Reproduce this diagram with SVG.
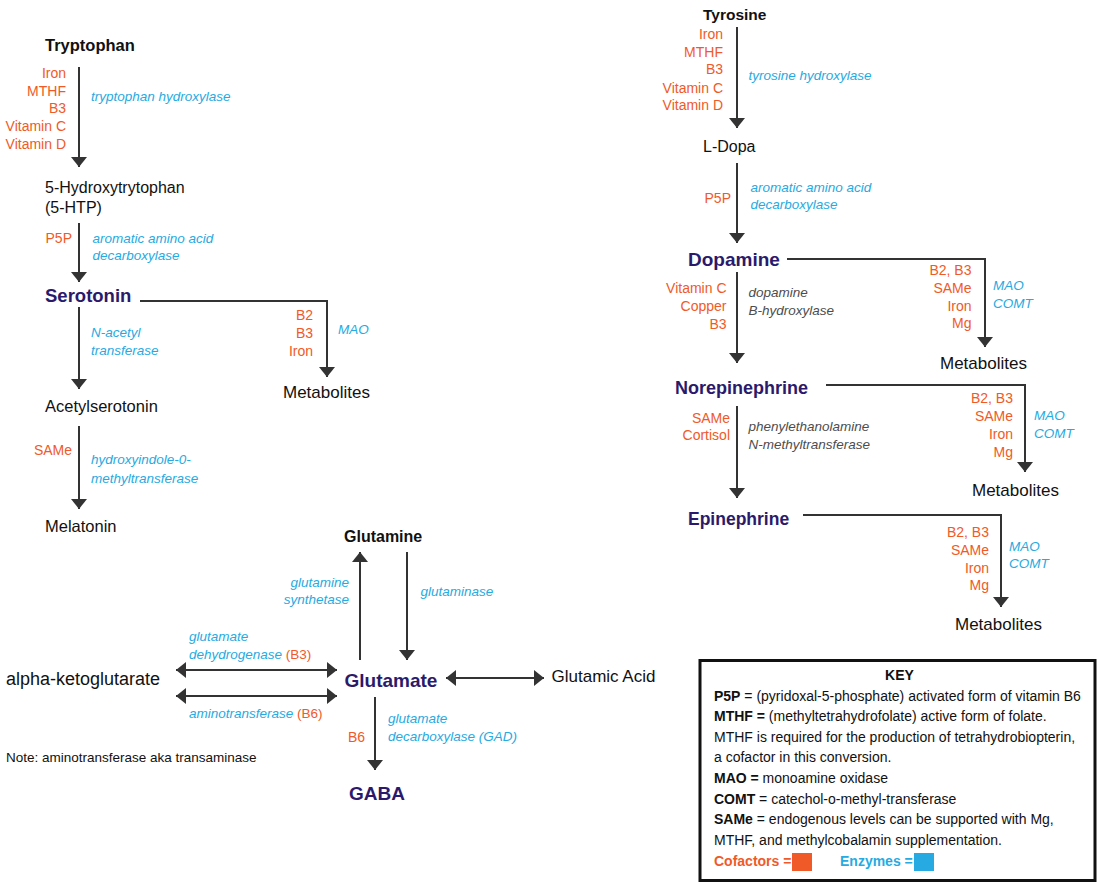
<svg xmlns="http://www.w3.org/2000/svg" width="1100" height="885" viewBox="0 0 1100 885">
<style>
text{font-family:"Liberation Sans",Arial,sans-serif}
.n{font-size:16.5px;fill:#111}
.nb{font-size:16px;fill:#111;font-weight:bold}
.p{font-size:18.5px;fill:#2b1a6b;font-weight:bold}
.c{font-size:14px;fill:#f05a28;text-anchor:end}
.e{font-size:13.5px;fill:#27aae1;font-style:italic}
.g{font-size:13.5px;fill:#4d4d4d;font-style:italic}
.k{font-size:14px;fill:#111}
.kb{font-weight:bold}
.conn path{fill:none;stroke:#333;stroke-width:2}
</style>
<defs>
<marker id="ah" viewBox="0 0 10 16" refX="10" refY="8" markerWidth="10" markerHeight="16" markerUnits="userSpaceOnUse" orient="auto-start-reverse">
<path d="M0,0 L10,8 L0,16 z" fill="#333"/>
</marker>
</defs>
<rect width="1100" height="885" fill="#fff"/>

<g class="conn" id="connectors">
<path d="M79,67 V167" marker-end="url(#ah)"/>
<path d="M79,223 V282" marker-end="url(#ah)"/>
<path d="M79,307 V389" marker-end="url(#ah)"/>
<path d="M79,426 V509" marker-end="url(#ah)"/>
<path d="M140,301 H327 V377" marker-end="url(#ah)"/>
<path d="M737,27 V128" marker-end="url(#ah)"/>
<path d="M737,163 V243" marker-end="url(#ah)"/>
<path d="M737,272 V363" marker-end="url(#ah)"/>
<path d="M737,406 V498" marker-end="url(#ah)"/>
<path d="M787,259 H985 V347" marker-end="url(#ah)"/>
<path d="M826,385 H1025 V472" marker-end="url(#ah)"/>
<path d="M803,515 H1001 V607" marker-end="url(#ah)"/>
<path d="M360,660 V552" marker-end="url(#ah)"/>
<path d="M407,552 V660" marker-end="url(#ah)"/>
<path d="M176,670 H337" marker-start="url(#ah)" marker-end="url(#ah)"/>
<path d="M176,696 H337" marker-start="url(#ah)" marker-end="url(#ah)"/>
<path d="M446,678 H544" marker-start="url(#ah)" marker-end="url(#ah)"/>
<path d="M375,697 V770" marker-end="url(#ah)"/>
</g>

<g id="tryptophan"><text class="nb" x="45" y="51" style="font-size:16.5px">Tryptophan</text></g>
<g id="trp-cofactors">
<text class="c" x="66" y="78">Iron</text>
<text class="c" x="66" y="95.5">MTHF</text>
<text class="c" x="66" y="113">B3</text>
<text class="c" x="66" y="131">Vitamin C</text>
<text class="c" x="66" y="148.5">Vitamin D</text>
<text class="e" x="91" y="101">tryptophan hydroxylase</text>
</g>
<g id="htp"><text class="n" x="45" y="192.5" style="font-size:16px">5-Hydroxytrytophan</text><text class="n" x="45" y="213" style="font-size:16px">(5-HTP)</text></g>
<g id="htp-enz">
<text class="c" x="72" y="242.5">P5P</text>
<text class="e" x="92.5" y="242.5">aromatic amino acid</text>
<text class="e" x="92.5" y="260">decarboxylase</text>
</g>
<g id="serotonin"><text class="p" x="45" y="301.5">Serotonin</text></g>
<g id="ser-met-labels">
<text class="c" x="313" y="320">B2</text>
<text class="c" x="313" y="338">B3</text>
<text class="c" x="313" y="356">Iron</text>
<text class="e" x="338" y="334">MAO</text>
</g>
<g id="metabolites1"><text class="n" x="283" y="397.5" style="font-size:17px">Metabolites</text></g>
<g id="ser-enz">
<text class="e" x="91" y="336.5">N-acetyl</text>
<text class="e" x="91" y="355">transferase</text>
</g>
<g id="acetylserotonin"><text class="n" x="45" y="411.5">Acetylserotonin</text></g>
<g id="acet-enz">
<text class="c" x="72" y="454.5">SAMe</text>
<text class="e" x="91" y="464">hydroxyindole-0-</text>
<text class="e" x="91" y="482.5">methyltransferase</text>
</g>
<g id="melatonin"><text class="n" x="45" y="532">Melatonin</text></g>

<g id="glutamine"><text class="nb" x="344" y="542">Glutamine</text></g>
<g id="gln-enz">
<text class="e" x="349" y="586.5" text-anchor="end">glutamine</text>
<text class="e" x="349" y="604" text-anchor="end">synthetase</text>
<text class="e" x="420.5" y="596">glutaminase</text>
</g>
<g id="glutamate"><text class="p" x="344.5" y="686.5" style="font-size:19px">Glutamate</text></g>
<g id="glutamic-acid"><text class="n" x="551.5" y="681.5" style="font-size:17px">Glutamic Acid</text></g>
<g id="akg"><text class="n" x="6" y="685" style="font-size:18px">alpha-ketoglutarate</text></g>
<g id="akg-enz">
<text class="e" x="189" y="641">glutamate</text>
<text class="e" x="189" y="658.5">dehydrogenase <tspan fill="#f05a28" font-style="normal">(B3)</tspan></text>
<text class="e" x="189" y="717.5">aminotransferase <tspan fill="#f05a28" font-style="normal">(B6)</tspan></text>
</g>
<g id="gad">
<text class="c" x="365" y="741.5">B6</text>
<text class="e" x="388" y="722.5">glutamate</text>
<text class="e" x="388" y="740.5">decarboxylase (GAD)</text>
</g>
<g id="gaba"><text class="p" x="349" y="799.5" style="font-size:19px">GABA</text></g>
<g id="note"><text class="k" x="6" y="761.5" style="font-size:13.5px">Note: aminotransferase aka transaminase</text></g>

<g id="tyrosine"><text class="nb" x="703" y="20" style="font-size:15.5px">Tyrosine</text></g>
<g id="tyr-cofactors">
<text class="c" x="723" y="39">Iron</text>
<text class="c" x="723" y="56.5">MTHF</text>
<text class="c" x="723" y="74">B3</text>
<text class="c" x="723" y="92.5">Vitamin C</text>
<text class="c" x="723" y="110">Vitamin D</text>
<text class="e" x="748.5" y="79.5">tyrosine hydroxylase</text>
</g>
<g id="ldopa"><text class="n" x="703" y="151.5" style="font-size:16px">L-Dopa</text></g>
<g id="ldopa-enz">
<text class="c" x="731" y="203">P5P</text>
<text class="e" x="750.5" y="191.5">aromatic amino acid</text>
<text class="e" x="750.5" y="209">decarboxylase</text>
</g>
<g id="dopamine"><text class="p" x="688" y="266" style="font-size:19px">Dopamine</text></g>
<g id="dop-met-labels">
<text class="c" x="971.5" y="275">B2, B3</text>
<text class="c" x="971.5" y="292.5">SAMe</text>
<text class="c" x="971.5" y="310.5">Iron</text>
<text class="c" x="971.5" y="328">Mg</text>
<text class="e" x="993" y="290">MAO</text>
<text class="e" x="993" y="308">COMT</text>
</g>
<g id="metabolites2"><text class="n" x="940" y="369" style="font-size:17px">Metabolites</text></g>
<g id="dop-enz">
<text class="c" x="726.5" y="293">Vitamin C</text>
<text class="c" x="726.5" y="311">Copper</text>
<text class="c" x="726.5" y="328.5">B3</text>
<text class="g" x="748.5" y="297">dopamine</text>
<text class="g" x="748.5" y="315">B-hydroxylase</text>
</g>
<g id="norepinephrine"><text class="p" x="675" y="394" style="font-size:18px">Norepinephrine</text></g>
<g id="ne-met-labels">
<text class="c" x="1013" y="403">B2, B3</text>
<text class="c" x="1013" y="421">SAMe</text>
<text class="c" x="1013" y="439">Iron</text>
<text class="c" x="1013" y="456.5">Mg</text>
<text class="e" x="1034" y="420">MAO</text>
<text class="e" x="1034" y="437.5">COMT</text>
</g>
<g id="metabolites3"><text class="n" x="972" y="495.5" style="font-size:17px">Metabolites</text></g>
<g id="ne-enz">
<text class="c" x="730" y="422.5">SAMe</text>
<text class="c" x="730" y="440">Cortisol</text>
<text class="g" x="748.5" y="431">phenylethanolamine</text>
<text class="g" x="748.5" y="449">N-methyltransferase</text>
</g>
<g id="epinephrine"><text class="p" x="688" y="525" style="font-size:17.5px">Epinephrine</text></g>
<g id="epi-met-labels">
<text class="c" x="989" y="537">B2, B3</text>
<text class="c" x="989" y="555">SAMe</text>
<text class="c" x="989" y="572.5">Iron</text>
<text class="c" x="989" y="590">Mg</text>
<text class="e" x="1009" y="550.5">MAO</text>
<text class="e" x="1009" y="568">COMT</text>
</g>
<g id="metabolites4"><text class="n" x="955" y="630" style="font-size:17px">Metabolites</text></g>

<g id="key">
<rect x="700" y="660.5" width="395" height="220" fill="#fff" stroke="#111" stroke-width="3"/>
<text class="k kb" x="899.5" y="679.5" text-anchor="middle">KEY</text>
<text class="k" x="714" y="700.5"><tspan class="kb">P5P</tspan> = (pyridoxal-5-phosphate) activated form of vitamin B6</text>
<text class="k" x="714" y="721"><tspan class="kb">MTHF =</tspan> (methyltetrahydrofolate) active form of folate.</text>
<text class="k" x="714" y="741.5">MTHF is required for the production of tetrahydrobiopterin,</text>
<text class="k" x="714" y="762">a cofactor in this conversion.</text>
<text class="k" x="714" y="782.5"><tspan class="kb">MAO =</tspan> monoamine oxidase</text>
<text class="k" x="714" y="803.5"><tspan class="kb">COMT</tspan> = catechol-o-methyl-transferase</text>
<text class="k" x="714" y="824"><tspan class="kb">SAMe</tspan> = endogenous levels can be supported with Mg,</text>
<text class="k" x="714" y="845">MTHF, and methylcobalamin supplementation.</text>
<text class="k kb" x="714" y="866" fill="#f05a28" style="fill:#f05a28">Cofactors =</text>
<rect x="792" y="853" width="20" height="18" fill="#f05a28"/>
<text class="k kb" x="840" y="866" style="fill:#27aae1">Enzymes =</text>
<rect x="914" y="853" width="20" height="18" fill="#27aae1"/>
</g>
</svg>
